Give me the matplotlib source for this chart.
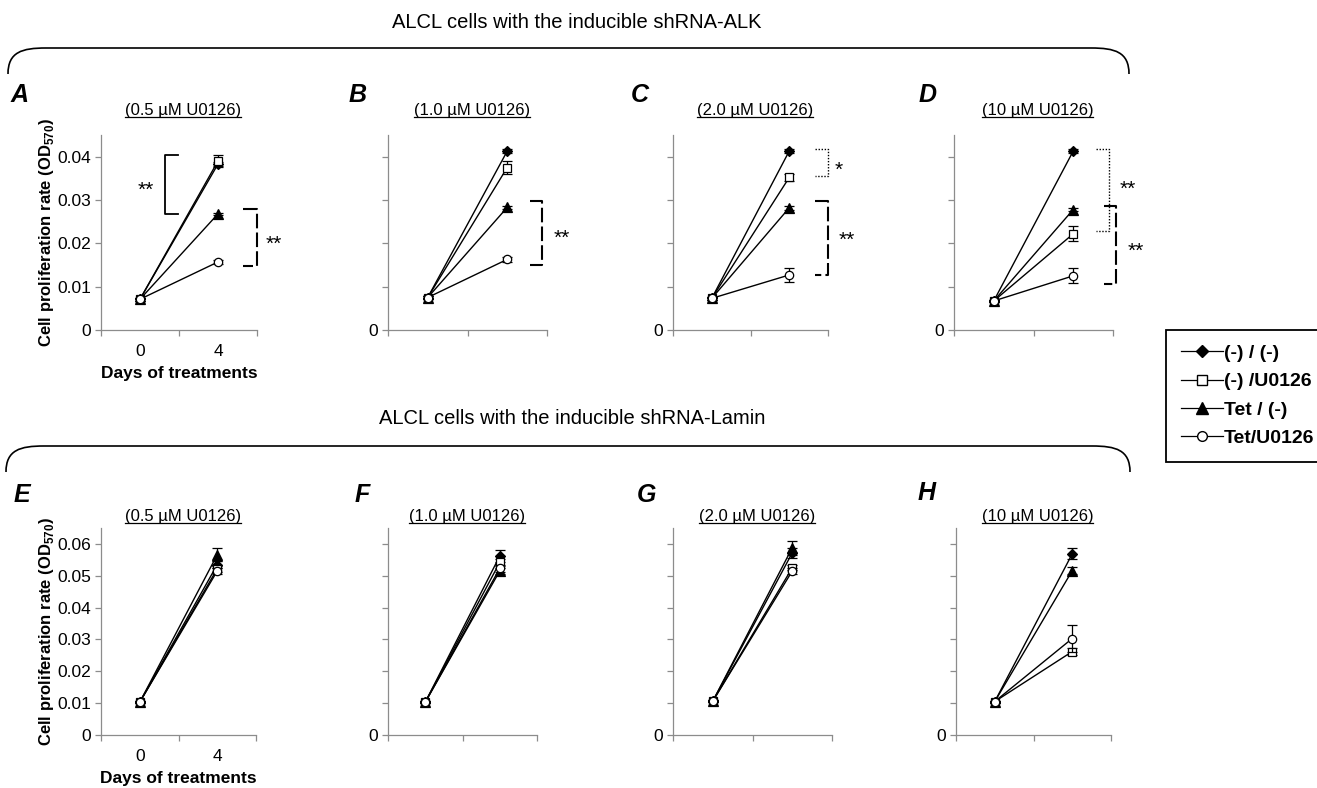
import matplotlib
matplotlib.use("Agg")
import matplotlib.pyplot as plt
from matplotlib.lines import Line2D
from matplotlib.path import Path
from matplotlib.patches import PathPatch

plt.rcParams['font.family'] = ['Liberation Sans', 'DejaVu Sans']
plt.rcParams['mathtext.fontset'] = 'custom'
plt.rcParams['mathtext.rm'] = 'Liberation Sans'
plt.rcParams['mathtext.bf'] = 'Liberation Sans:bold'

# ---------------- data ----------------
series_labels = ['(-) / (-)', '(-) /U0126', 'Tet / (-)', 'Tet/U0126']
days = ['0', '4']
panel_letters = ['A', 'B', 'C', 'D', 'E', 'F', 'G', 'H']
panel_titles = ['(0.5 µM U0126)', '(1.0 µM U0126)', '(2.0 µM U0126)', '(10 µM U0126)']
group_titles = ['ALCL cells with the inducible shRNA-ALK', 'ALCL cells with the inducible shRNA-Lamin']

# shRNA-ALK panels (A-D): [day0, day4] per series
alk_dd = [[0.0071, 0.0383], [0.0075, 0.0413], [0.0073, 0.0413], [0.0067, 0.0413]]
alk_du = [[0.0071, 0.0390], [0.0075, 0.0375], [0.0073, 0.0352], [0.0067, 0.0222]]
alk_td = [[0.0071, 0.0268], [0.0075, 0.0283], [0.0073, 0.0282], [0.0067, 0.0278]]
alk_tu = [[0.0071, 0.0157], [0.0075, 0.0163], [0.0073, 0.0127], [0.0067, 0.0125]]
alk_err = [[0.0005, 0.0013, 0.0003, 0.0004],
           [0.0005, 0.0015, 0.0003, 0.0005],
           [0.0004, 0.0009, 0.0004, 0.0017],
           [0.0004, 0.0017, 0.0003, 0.0017]]

# shRNA-Lamin panels (E-H)
lam_dd = [[0.0103, 0.0535], [0.0103, 0.0562], [0.0106, 0.0572], [0.0105, 0.0569]]
lam_du = [[0.0103, 0.0522], [0.0103, 0.0542], [0.0106, 0.0525], [0.0105, 0.0262]]
lam_td = [[0.0103, 0.0566], [0.0103, 0.0515], [0.0106, 0.0588], [0.0105, 0.0516]]
lam_tu = [[0.0103, 0.0515], [0.0103, 0.0523], [0.0106, 0.0515], [0.0105, 0.0303]]
lam_err = [[0.0010, 0.0010, 0.0021, 0.0010],
           [0.0018, 0.0010, 0.0008, 0.0010],
           [0.0015, 0.0008, 0.0022, 0.0008],
           [0.0017, 0.0010, 0.0012, 0.0042]]
err_day0 = 0.0003

# significance brackets (data coords): xv vertical x, xh end of horizontals, y top/bottom, label pos
brackets = {
    0: [('-', 0.82, 0.99, 0.0404, 0.0268, '**', 0.58, 0.0323),
        ('--', 2.00, 1.82, 0.0280, 0.0148, '**', 2.22, 0.0198)],
    1: [('--', 1.94, 1.79, 0.0298, 0.0150, '**', 2.18, 0.0212)],
    2: [(':', 2.00, 1.83, 0.0418, 0.0355, '*', 2.14, 0.0368),
        ('--', 2.00, 1.83, 0.0298, 0.0127, '**', 2.24, 0.0207)],
    3: [(':', 1.95, 1.79, 0.0418, 0.0229, '**', 2.18, 0.0325),
        ('--', 2.04, 1.89, 0.0287, 0.0106, '**', 2.28, 0.0182)],
}

# ---------------- layout ----------------
W, H = 1317, 788
fig = plt.figure(figsize=(W / 100, H / 100), dpi=100)


def fx(x):
    return x / W


def fy(y):
    return 1 - y / H


top_x = [(101, 257), (388, 547), (673, 828), (954, 1113)]
bot_x = [(101, 256), (388, 537), (673, 832), (956, 1111)]
top_y = (135, 330)
bot_y = (528, 735)

markers = ['D', 's', '^', 'o']
mfaces = ['black', 'white', 'black', 'white']
msizes = [5.5, 6, 7, 6]
gray = '#8c8c8c'

axes = []
title_texts = []
for row in range(2):
    xs = top_x if row == 0 else bot_x
    ys = top_y if row == 0 else bot_y
    data = [alk_dd, alk_du, alk_td, alk_tu] if row == 0 else [lam_dd, lam_du, lam_td, lam_tu]
    errs = alk_err if row == 0 else lam_err
    ymax = 0.045 if row == 0 else 0.065
    yt = [0, 0.01, 0.02, 0.03, 0.04] if row == 0 else [0, 0.01, 0.02, 0.03, 0.04, 0.05, 0.06]
    for i in range(4):
        x0, x1 = xs[i]
        ax = fig.add_axes([fx(x0), fy(ys[1]), (x1 - x0) / W, (ys[1] - ys[0]) / H])
        axes.append(ax)
        for s in range(4):
            vals = data[s][i]
            ax.errorbar([0.5, 1.5], vals, yerr=[err_day0, errs[i][s]], color='black',
                        lw=1.0, marker=markers[s], mfc=mfaces[s], mec='black', ms=msizes[s],
                        mew=0.9, capsize=3.5, elinewidth=0.9, capthick=0.9,
                        label=series_labels[s], zorder=3 + s)
        ax.set_xlim(0, 2)
        ax.set_ylim(0, ymax)
        for sp in ['top', 'right']:
            ax.spines[sp].set_visible(False)
        for sp in ['left', 'bottom']:
            ax.spines[sp].set_color(gray)
            ax.spines[sp].set_linewidth(0.9)
        ax.set_xticks([0, 1, 2])
        ax.set_xticklabels([])
        ax.set_yticks(yt)
        ax.tick_params(axis='both', colors=gray, length=4, width=0.9, labelcolor='black',
                       labelsize=12.5, pad=3)
        if i == 0:
            ax.set_yticklabels(['0'] + ['%.2f' % v for v in yt[1:]])
            ax.set_xticks([0.5, 1.5], minor=True)
            ax.set_xticklabels(days, minor=True)
            ax.tick_params(axis='x', which='minor', length=0, labelsize=12.5, pad=10)
            ax.set_xlabel('Days of treatments', fontsize=12.5, fontweight='bold', labelpad=5)
            ax.set_ylabel(r'Cell proliferation rate (OD$_{\mathbf{570}}$)', fontsize=12,
                          fontweight='bold', labelpad=1)
        else:
            ax.set_yticklabels(['0'] + [''] * (len(yt) - 1))
        # panel title
        off = 18 if row == 0 else 8
        t = ax.annotate(panel_titles[i], xy=(0.5, 1), xycoords='axes fraction',
                        xytext=(3, off), textcoords='offset points', ha='center', va='center',
                        fontsize=12)
        title_texts.append(t)

# brackets
for i, bl in brackets.items():
    ax = axes[i]
    for ls, xv, xh, yt_, yb, lab, tx, ty in bl:
        if ls == '-':
            kw = dict(linestyle='-', lw=1.3)
        elif ls == '--':
            kw = dict(linestyle=(0, (7, 2)), lw=1.5)
        else:
            kw = dict(linestyle=(0, (1, 1.2)), lw=1.0)
        ax.plot([xh, xv, xv, xh], [yt_, yt_, yb, yb], color='black', clip_on=False, **kw)
        ax.text(tx, ty, lab, ha='center', va='center', fontsize=15, clip_on=False)

# panel letters
letter_pos = [(20, 95), (358, 95), (640, 95), (928, 95), (22, 495), (362, 495), (647, 495), (927, 493)]
for L, (px, py) in zip(panel_letters, letter_pos):
    fig.text(fx(px), fy(py), L, fontsize=18, fontweight='bold', fontstyle='italic',
             ha='center', va='center')

# group titles
fig.text(fx(577), fy(22), group_titles[0], fontsize=14.5, ha='center', va='center')
fig.text(fx(572), fy(418), group_titles[1], fontsize=14.5, ha='center', va='center')


def brace(xl, xr, ytop, ybot, r=38):
    verts = [(xl, ybot), (xl, ytop + 4), (xl + 14, ytop), (xl + r, ytop),
             (xr - r, ytop), (xr - 14, ytop), (xr, ytop + 4), (xr, ybot)]
    codes = [Path.MOVETO, Path.CURVE4, Path.CURVE4, Path.CURVE4,
             Path.LINETO, Path.CURVE4, Path.CURVE4, Path.CURVE4]
    verts = [(fx(a), fy(b)) for a, b in verts]
    fig.add_artist(PathPatch(Path(verts, codes), fc='none', ec='black', lw=1.2,
                             transform=fig.transFigure))


brace(8, 1129, 48, 74)
brace(6, 1130, 446, 472)

# legend
handles = [Line2D([], [], color='black', lw=0.9, marker=markers[s], mfc=mfaces[s], mec='black',
                  ms=msizes[s] + 1) for s in range(4)]
leg = fig.legend(handles, series_labels, loc='upper left', bbox_to_anchor=(fx(1166), fy(330)),
                 frameon=True, fancybox=False, edgecolor='black', framealpha=1,
                 prop={'weight': 'bold', 'size': 14}, handlelength=2.2, handletextpad=0.02,
                 labelspacing=0.55, borderpad=0.75, borderaxespad=0)
leg.get_frame().set_linewidth(1.3)

# underline panel titles
fig.canvas.draw()
r = fig.canvas.get_renderer()
for t in title_texts:
    bb = t.get_window_extent(r)
    fig.add_artist(Line2D([bb.x0 / W, bb.x1 / W], [(bb.y0 + 1) / H] * 2, color='black', lw=0.9,
                          transform=fig.transFigure))

fig.savefig('out.png', dpi=100)
